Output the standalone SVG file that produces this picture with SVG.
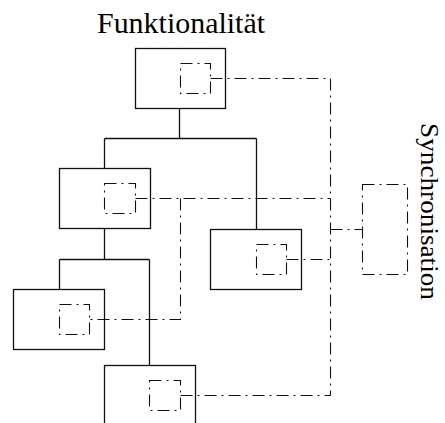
<svg xmlns="http://www.w3.org/2000/svg" width="445" height="423" viewBox="0 0 445 423">
  <style>
    .box { fill: none; stroke: #111; stroke-width: 1.3; }
    .tree { fill: none; stroke: #111; stroke-width: 1.3; }
    .sync { fill: none; stroke: #111; stroke-width: 1.1; stroke-dasharray: 12 5 2 5; }
    .label { font-family: "Liberation Serif", "Times New Roman", serif; fill: #000; }
  </style>
  <rect width="445" height="423" fill="#fff"/>

  <!-- headings -->
  <text class="label" x="181" y="33" font-size="29" text-anchor="middle" textLength="168" lengthAdjust="spacingAndGlyphs">Funktionalität</text>
  <text class="label" transform="translate(421,123) rotate(90)" font-size="26" textLength="177" lengthAdjust="spacingAndGlyphs">Synchronisation</text>

  <!-- connectors: solid hierarchy lines and dash-dot synchronisation lines -->
  <g id="connectors">
    <path class="tree" d="M179.5 108.5 V138.5 M104.5 138.5 H256.5 M104.5 138.5 V168.5 M256.5 138.5 V229.5"/>
    <path class="tree" d="M104.5 228.5 V259.5 M59.5 259.5 H149.5 M59.5 259.5 V289.5 M149.5 259.5 V365.5"/>
    <path class="sync" d="M210.5 78.5 H330.5 V395.5"/>
    <path class="sync" d="M135.5 198.5 H330.5"/>
    <path class="sync" d="M180.5 198.5 V319.5 H89.5"/>
    <path class="sync" d="M286.5 259.5 H330.5"/>
    <path class="sync" d="M180.5 395.5 H330.5"/>
    <path class="sync" d="M330.5 229.5 H362.5"/>
  </g>

  <g id="node-top">
    <rect class="box" x="135.5" y="48.5" width="90" height="60"/>
    <rect class="sync" x="180.5" y="63.5" width="30" height="30"/>
  </g>
  <g id="node-left">
    <rect class="box" x="59.5" y="168.5" width="91" height="60"/>
    <rect class="sync" x="104.5" y="183.5" width="31" height="30"/>
  </g>
  <g id="node-right">
    <rect class="box" x="210.5" y="229.5" width="91" height="60"/>
    <rect class="sync" x="256.5" y="244.5" width="30" height="30"/>
  </g>
  <g id="node-left-left">
    <rect class="box" x="13.5" y="289.5" width="91" height="60"/>
    <rect class="sync" x="59.5" y="304.5" width="30" height="30"/>
  </g>
  <g id="node-left-right">
    <rect class="box" x="104.5" y="365.5" width="91" height="60"/>
    <rect class="sync" x="149.5" y="380.5" width="31" height="30"/>
  </g>
  <g id="node-sync">
    <rect class="sync" x="362.5" y="184.5" width="45" height="90"/>
  </g>
</svg>
